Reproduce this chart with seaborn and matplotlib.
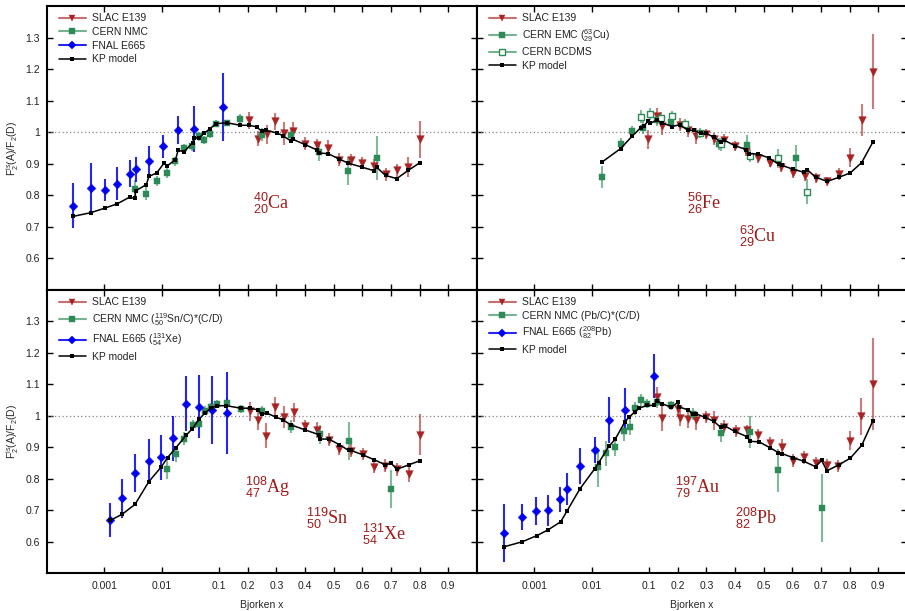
import numpy as np
import pandas as pd
import matplotlib
matplotlib.use("Agg")
import matplotlib.pyplot as plt
from matplotlib.lines import Line2D
from matplotlib.colors import to_rgba
import seaborn as sns

# ---------------------------------------------------------------- data
# 40Ca (top left)
ca_kp_x = [0.00028, 0.00058, 0.00104, 0.00167, 0.00275, 0.00345, 0.0035, 0.0054, 0.0060, 0.0082,
           0.0110, 0.0124, 0.0174, 0.0194, 0.0243, 0.0345, 0.0369, 0.0446, 0.0546, 0.0695,
           0.0885, 0.127, 0.174, 0.206, 0.231, 0.249, 0.263, 0.301, 0.323, 0.351,
           0.359, 0.400, 0.441, 0.450, 0.481, 0.519, 0.551, 0.600, 0.641, 0.650,
           0.681, 0.720, 0.760, 0.800]
ca_kp_y = [0.733, 0.745, 0.760, 0.773, 0.794, 0.790, 0.814, 0.834, 0.860, 0.871,
           0.902, 0.893, 0.913, 0.943, 0.938, 0.966, 0.982, 0.981, 0.996, 1.011,
           1.027, 1.030, 1.022, 1.022, 1.017, 1.003, 1.006, 0.998, 0.989, 0.972,
           0.977, 0.961, 0.944, 0.934, 0.932, 0.915, 0.902, 0.889, 0.878, 0.889,
           0.863, 0.853, 0.879, 0.903]
ca_e665_x = [0.00028, 0.00058, 0.00104, 0.00167, 0.00275, 0.00355, 0.0060, 0.0107, 0.0194, 0.0369, 0.115]
ca_e665_y = [0.767, 0.824, 0.817, 0.837, 0.868, 0.882, 0.909, 0.955, 1.006, 1.010, 1.080]
ca_e665_err = [0.072, 0.080, 0.036, 0.052, 0.043, 0.039, 0.046, 0.037, 0.044, 0.072, 0.108]
ca_nmc_x = [0.0034, 0.0054, 0.0084, 0.0124, 0.0174, 0.0243, 0.0336, 0.0452, 0.0546, 0.0695,
            0.0898, 0.127, 0.174, 0.251, 0.351, 0.450, 0.551, 0.650]
ca_nmc_y = [0.819, 0.805, 0.846, 0.871, 0.908, 0.950, 0.957, 0.987, 0.975, 0.995,
            1.027, 1.030, 1.042, 0.992, 0.992, 0.938, 0.877, 0.918]
ca_nmc_err = [0.030, 0.020, 0.015, 0.015, 0.015, 0.012, 0.015, 0.015, 0.012, 0.012,
              0.012, 0.010, 0.015, 0.020, 0.020, 0.030, 0.045, 0.070]
ca_slac_x = [0.204, 0.235, 0.266, 0.295, 0.326, 0.359, 0.400, 0.441, 0.481, 0.519,
             0.559, 0.600, 0.641, 0.681, 0.720, 0.760, 0.800]
ca_slac_y = [1.038, 0.979, 0.993, 1.035, 0.996, 1.003, 0.964, 0.959, 0.951, 0.913,
             0.912, 0.902, 0.894, 0.867, 0.879, 0.889, 0.977]
ca_slac_err = [0.027, 0.024, 0.030, 0.027, 0.035, 0.030, 0.020, 0.020, 0.024, 0.020,
               0.018, 0.018, 0.020, 0.020, 0.021, 0.032, 0.060]

# 56Fe / 63Cu (top right)
fe_kp_x = [0.0153, 0.0319, 0.0511, 0.0715, 0.0818, 0.0962, 0.1035, 0.127, 0.1465, 0.181,
           0.207, 0.236, 0.257, 0.280, 0.298, 0.327, 0.350, 0.362, 0.400, 0.440,
           0.449, 0.481, 0.519, 0.553, 0.563, 0.602, 0.641, 0.652, 0.681, 0.721,
           0.762, 0.802, 0.842, 0.881]
fe_kp_y = [0.906, 0.948, 0.988, 1.014, 1.020, 1.035, 1.028, 1.038, 1.029, 1.018,
           1.024, 1.006, 1.006, 0.996, 0.996, 0.985, 0.968, 0.975, 0.957, 0.945,
           0.932, 0.931, 0.918, 0.898, 0.895, 0.883, 0.873, 0.881, 0.858, 0.844,
           0.857, 0.871, 0.904, 0.969]
fe_slac_x = [0.0973, 0.127, 0.1465, 0.207, 0.236, 0.265, 0.298, 0.327, 0.362, 0.400,
             0.440, 0.481, 0.521, 0.559, 0.602, 0.643, 0.681, 0.721, 0.762, 0.802,
             0.842, 0.881]
fe_slac_y = [0.977, 1.051, 1.021, 1.024, 1.006, 0.989, 0.995, 0.979, 0.975, 0.956,
             0.940, 0.917, 0.904, 0.890, 0.870, 0.861, 0.855, 0.844, 0.868, 0.919,
             1.038, 1.192]
fe_slac_err = [0.030, 0.025, 0.030, 0.020, 0.020, 0.025, 0.015, 0.020, 0.020, 0.015,
               0.015, 0.015, 0.015, 0.015, 0.015, 0.015, 0.015, 0.015, 0.018, 0.030,
               0.050, 0.118]
cu_emc_x = [0.0153, 0.0319, 0.0498, 0.0796, 0.127, 0.1756, 0.344, 0.443, 0.614]
cu_emc_y = [0.858, 0.963, 1.005, 1.014, 1.040, 1.033, 0.963, 0.961, 0.919]
cu_emc_err = [0.035, 0.020, 0.015, 0.020, 0.020, 0.020, 0.020, 0.030, 0.040]
fe_bcdms_x = [0.0715, 0.1023, 0.1407, 0.181, 0.2256, 0.2767, 0.350, 0.4512, 0.551, 0.6495]
fe_bcdms_y = [1.049, 1.058, 1.045, 1.051, 1.026, 0.997, 0.962, 0.926, 0.917, 0.811]
fe_bcdms_err = [0.020, 0.020, 0.020, 0.015, 0.015, 0.015, 0.020, 0.020, 0.030, 0.040]

# 108Ag / 119Sn / 131Xe (bottom left)
ag_kp_x = [0.00126, 0.00205, 0.00342, 0.00595, 0.0098, 0.01267, 0.0175, 0.0266, 0.0344, 0.0451,
           0.0560, 0.0723, 0.0923, 0.1256, 0.1767, 0.207, 0.235, 0.250, 0.2674, 0.299,
           0.323, 0.351, 0.401, 0.448, 0.453, 0.483, 0.520, 0.552, 0.560, 0.601,
           0.642, 0.680, 0.700, 0.721, 0.762, 0.801]
ag_kp_y = [0.667, 0.687, 0.718, 0.790, 0.837, 0.867, 0.897, 0.938, 0.959, 0.989,
           1.008, 1.024, 1.032, 1.032, 1.024, 1.024, 1.019, 1.005, 1.008, 0.996,
           0.987, 0.971, 0.955, 0.940, 0.926, 0.926, 0.908, 0.890, 0.890, 0.876,
           0.860, 0.844, 0.849, 0.830, 0.844, 0.857]
xe_e665_x = [0.00126, 0.00205, 0.00342, 0.00595, 0.0098, 0.0159, 0.0266, 0.0451, 0.0753, 0.128]
xe_e665_y = [0.669, 0.738, 0.819, 0.857, 0.868, 0.928, 1.039, 1.029, 1.019, 1.010]
xe_e665_err = [0.054, 0.062, 0.060, 0.069, 0.072, 0.072, 0.088, 0.100, 0.108, 0.130]
sn_nmc_x = [0.0125, 0.0175, 0.0249, 0.0349, 0.0451, 0.0575, 0.0723, 0.0923, 0.1267, 0.1767,
            0.250, 0.351, 0.451, 0.552, 0.700]
sn_nmc_y = [0.830, 0.879, 0.927, 0.971, 0.974, 1.016, 1.029, 1.039, 1.041, 1.021,
            1.016, 0.965, 0.941, 0.920, 0.768]
sn_nmc_err = [0.030, 0.025, 0.020, 0.015, 0.015, 0.015, 0.012, 0.012, 0.015, 0.012,
              0.015, 0.020, 0.030, 0.060, 0.060]
ag_slac_x = [0.207, 0.235, 0.265, 0.2965, 0.3256, 0.360, 0.401, 0.442, 0.483, 0.520,
             0.560, 0.601, 0.642, 0.680, 0.721, 0.762, 0.801]
ag_slac_y = [1.014, 0.985, 0.936, 1.029, 0.996, 1.011, 0.968, 0.955, 0.924, 0.895,
             0.889, 0.879, 0.838, 0.841, 0.830, 0.814, 0.940]
ag_slac_err = [0.030, 0.030, 0.040, 0.030, 0.035, 0.030, 0.020, 0.025, 0.020, 0.020,
               0.020, 0.020, 0.020, 0.020, 0.020, 0.025, 0.065]

# 197Au / 208Pb (bottom right)
au_kp_x = [0.000291, 0.000608, 0.00111, 0.00173, 0.00289, 0.00368, 0.00621, 0.01135, 0.0132, 0.0200,
           0.0258, 0.0380, 0.0447, 0.0561, 0.0668, 0.0923, 0.1186, 0.1267, 0.1465, 0.178,
           0.201, 0.2047, 0.236, 0.2535, 0.265, 0.295, 0.327, 0.350, 0.364, 0.400,
           0.443, 0.451, 0.484, 0.521, 0.551, 0.563, 0.602, 0.641, 0.681, 0.702,
           0.721, 0.762, 0.802, 0.842, 0.881]
au_kp_y = [0.583, 0.599, 0.619, 0.637, 0.663, 0.696, 0.767, 0.832, 0.850, 0.903,
           0.926, 0.981, 0.995, 1.012, 1.024, 1.033, 1.033, 1.048, 1.038, 1.027,
           1.043, 1.028, 1.019, 1.005, 1.006, 0.995, 0.982, 0.963, 0.968, 0.950,
           0.933, 0.919, 0.917, 0.899, 0.883, 0.880, 0.867, 0.855, 0.838, 0.858,
           0.825, 0.844, 0.865, 0.906, 0.984]
pb_e665_x = [0.000291, 0.000608, 0.00108, 0.00173, 0.00285, 0.00368, 0.00621, 0.01122, 0.0200, 0.0380, 0.1186]
pb_e665_y = [0.628, 0.678, 0.698, 0.699, 0.734, 0.768, 0.840, 0.891, 0.986, 1.019, 1.125]
pb_e665_err = [0.093, 0.042, 0.045, 0.048, 0.041, 0.051, 0.057, 0.041, 0.074, 0.068, 0.070]
pb_nmc_x = [0.0128, 0.0180, 0.0258, 0.0365, 0.0459, 0.0561, 0.0715, 0.0923, 0.129, 0.178,
            0.2535, 0.352, 0.451, 0.551, 0.702]
pb_nmc_y = [0.836, 0.881, 0.902, 0.950, 0.964, 1.024, 1.050, 1.039, 1.045, 1.033,
            1.005, 0.946, 0.948, 0.827, 0.707]
pb_nmc_err = [0.063, 0.040, 0.030, 0.030, 0.025, 0.020, 0.020, 0.015, 0.020, 0.015,
              0.020, 0.030, 0.050, 0.068, 0.109]
au_slac_x = [0.127, 0.1465, 0.2023, 0.207, 0.236, 0.265, 0.298, 0.327, 0.3616, 0.402,
             0.443, 0.4814, 0.522, 0.563, 0.601, 0.641, 0.681, 0.722, 0.760, 0.801,
             0.841, 0.881]
au_slac_y = [1.060, 0.993, 1.022, 0.993, 0.990, 0.985, 0.996, 0.985, 0.965, 0.952,
             0.955, 0.938, 0.913, 0.900, 0.857, 0.868, 0.850, 0.844, 0.840, 0.921,
             0.998, 1.100]
au_slac_err = [0.030, 0.040, 0.020, 0.025, 0.030, 0.030, 0.020, 0.030, 0.020, 0.020,
               0.015, 0.020, 0.020, 0.025, 0.020, 0.020, 0.020, 0.020, 0.020, 0.030,
               0.060, 0.146]

# axis ticks
xtick_values = [0.001, 0.01, 0.1, 0.2, 0.3, 0.4, 0.5, 0.6, 0.7, 0.8, 0.9]
xtick_labels = ["0.001", "0.01", "0.1", "0.2", "0.3", "0.4", "0.5", "0.6", "0.7", "0.8", "0.9"]
ytick_values = [0.6, 0.7, 0.8, 0.9, 1.0, 1.1, 1.2, 1.3]
ytick_labels = ["0.6", "0.7", "0.8", "0.9", "1", "1.1", "1.2", "1.3"]

# ---------------------------------------------------------------- style
sns.set_theme(style="ticks")
plt.rcParams.update({
    "font.family": ["Liberation Sans", "DejaVu Sans"],
    "mathtext.fontset": "custom",
    "mathtext.rm": "Liberation Sans",
    "mathtext.it": "Liberation Sans:italic",
    "mathtext.bf": "Liberation Sans:bold",
    "axes.facecolor": "white",
    "axes.edgecolor": "black",
    "axes.linewidth": 1.5,
    "xtick.color": "black",
    "ytick.color": "black",
    "text.color": "#222222",
})

RED = "#a82424"
GREEN = "#2e8b57"
BLUE = "#0000ee"
LABEL_RED = "#9e1b1b"


def _fwd(x):
    """log below x = 0.1, linear above (0.1 linear step = half a decade)."""
    x = np.asarray(x, dtype=float)
    with np.errstate(divide="ignore", invalid="ignore"):
        lg = np.log10(np.where(x > 0, x, 1e-12) / 0.1)
    return np.where(x < 0.1, lg, (x - 0.1) * 5.0)


def _inv(u):
    u = np.asarray(u, dtype=float)
    return np.where(u < 0, 0.1 * np.power(10.0, np.minimum(u, 0.0)), 0.1 + u / 5.0)


def draw_series(ax, x, y, err, marker, color, size, alpha_err, open_marker=False):
    ax.errorbar(x, y, yerr=err, fmt="none", ecolor=color, alpha=alpha_err,
                elinewidth=1.5, capsize=0, zorder=2)
    df = pd.DataFrame({"x": x, "y": y})
    sns.scatterplot(data=df, x="x", y="y", ax=ax, marker=marker, s=size,
                    color="white" if open_marker else color,
                    edgecolor=color, linewidth=1.0 if open_marker else 0.3,
                    legend=False, zorder=3)


def draw_model(ax, x, y):
    sns.lineplot(x=x, y=y, ax=ax, color="black", linewidth=1.1, marker="s",
                 markersize=2.6, markeredgewidth=0, estimator=None, sort=False,
                 legend=False, zorder=4)


def setup_axes(ax):
    ax.set_xscale("function", functions=(_fwd, _inv))
    ax.set_xlim(1e-4, 1.0)
    ax.set_ylim(0.5, 1.4)


def finish_axes(ax, show_x, show_y):
    ax.set_xlim(1e-4, 1.0)
    ax.set_ylim(0.5, 1.4)
    ax.set_xticks(xtick_values)
    ax.set_xticklabels(xtick_labels if show_x else [])
    ax.set_yticks(ytick_values)
    ax.set_yticklabels(ytick_labels if show_y else [])
    ax.minorticks_off()
    ax.tick_params(axis="both", which="major", direction="in", top=True, right=True,
                   length=4, width=1.0, labelsize=7.5, labelcolor="#222222")
    ax.tick_params(axis="x", pad=6)
    ax.tick_params(axis="y", pad=5)
    ax.axhline(1.0, color="#888888", linewidth=0.9, linestyle=(0, (1, 2)), zorder=1)
    ax.set_xlabel("Bjorken x" if show_x else "", fontsize=7.5, labelpad=6)
    ax.set_ylabel(r"F$_2^{\mathrm{is}}$(A)/F$_2$(D)" if show_y else "", fontsize=7.5, labelpad=3)
    for sp in ax.spines.values():
        sp.set_linewidth(1.5)
        sp.set_color("black")


def legend_handle(color, marker, line_alpha=0.65, open_marker=False, msize=5):
    lc = to_rgba(color, line_alpha)
    return Line2D([], [], color=lc, linewidth=1.5, marker=marker, markersize=msize,
                  markerfacecolor="white" if open_marker else color,
                  markeredgecolor=color, markeredgewidth=1.0 if open_marker else 0.3)


def kp_handle():
    return Line2D([], [], color="black", linewidth=1.1, marker="s", markersize=2.6,
                  markeredgewidth=0)


def add_legend(ax, handles, labels):
    ax.legend(handles, labels, loc="upper left", bbox_to_anchor=(0.01, 1.0),
              frameon=False, fontsize=7.5, handlelength=2.6, handletextpad=0.6,
              labelspacing=0.35, borderaxespad=0.4, borderpad=0.3, numpoints=1)


def nuclide(ax, fx, fy, text):
    ax.text(fx, fy, text, transform=ax.transAxes, ha="center", va="center",
            fontsize=13, color=LABEL_RED, family=["Liberation Serif", "DejaVu Serif"])


# ---------------------------------------------------------------- figure
fig = plt.figure(figsize=(9.05, 6.11), dpi=100)
W = 430 / 905
ax_tl = fig.add_axes([47 / 905, 321 / 611, W, 284 / 611])
ax_tr = fig.add_axes([477 / 905, 321 / 611, W, 284 / 611])
ax_bl = fig.add_axes([47 / 905, 38 / 611, W, 283 / 611])
ax_br = fig.add_axes([477 / 905, 38 / 611, W, 283 / 611])

# top left: calcium
setup_axes(ax_tl)
draw_series(ax_tl, ca_slac_x, ca_slac_y, ca_slac_err, "v", RED, 30, 0.6)
draw_series(ax_tl, ca_nmc_x, ca_nmc_y, ca_nmc_err, "s", GREEN, 22, 0.6)
draw_series(ax_tl, ca_e665_x, ca_e665_y, ca_e665_err, "D", BLUE, 20, 0.85)
draw_model(ax_tl, ca_kp_x, ca_kp_y)
finish_axes(ax_tl, False, True)
add_legend(ax_tl,
           [legend_handle(RED, "v"), legend_handle(GREEN, "s", msize=4.5),
            legend_handle(BLUE, "D", 0.85, msize=4.2), kp_handle()],
           ["SLAC E139", "CERN NMC", "FNAL E665", "KP model"])
nuclide(ax_tl, 0.521, 0.306, r"${}^{40}_{20}$Ca")

# top right: iron / copper
setup_axes(ax_tr)
draw_series(ax_tr, fe_slac_x, fe_slac_y, fe_slac_err, "v", RED, 30, 0.6)
draw_series(ax_tr, cu_emc_x, cu_emc_y, cu_emc_err, "s", GREEN, 22, 0.6)
draw_series(ax_tr, fe_bcdms_x, fe_bcdms_y, fe_bcdms_err, "s", GREEN, 16, 0.6, open_marker=True)
draw_model(ax_tr, fe_kp_x, fe_kp_y)
finish_axes(ax_tr, False, False)
add_legend(ax_tr,
           [legend_handle(RED, "v"), legend_handle(GREEN, "s", msize=4.5),
            legend_handle(GREEN, "s", open_marker=True, msize=3.8), kp_handle()],
           ["SLAC E139", r"CERN EMC (${}^{63}_{29}$Cu)", "CERN BCDMS", "KP model"])
nuclide(ax_tr, 0.527, 0.306, r"${}^{56}_{26}$Fe")
nuclide(ax_tr, 0.653, 0.190, r"${}^{63}_{29}$Cu")

# bottom left: silver / tin / xenon
setup_axes(ax_bl)
draw_series(ax_bl, ag_slac_x, ag_slac_y, ag_slac_err, "v", RED, 30, 0.6)
draw_series(ax_bl, sn_nmc_x, sn_nmc_y, sn_nmc_err, "s", GREEN, 22, 0.6)
draw_series(ax_bl, xe_e665_x, xe_e665_y, xe_e665_err, "D", BLUE, 20, 0.85)
draw_model(ax_bl, ag_kp_x, ag_kp_y)
finish_axes(ax_bl, True, True)
add_legend(ax_bl,
           [legend_handle(RED, "v"), legend_handle(GREEN, "s", msize=4.5),
            legend_handle(BLUE, "D", 0.85, msize=4.2), kp_handle()],
           ["SLAC E139", r"CERN NMC (${}^{119}_{50}$Sn/C)*(C/D)",
            r"FNAL E665 (${}^{131}_{54}$Xe)", "KP model"])
nuclide(ax_bl, 0.513, 0.302, r"${}^{108}_{47}$Ag")
nuclide(ax_bl, 0.651, 0.191, r"${}^{119}_{50}$Sn")
nuclide(ax_bl, 0.783, 0.136, r"${}^{131}_{54}$Xe")

# bottom right: gold / lead
setup_axes(ax_br)
draw_series(ax_br, au_slac_x, au_slac_y, au_slac_err, "v", RED, 30, 0.6)
draw_series(ax_br, pb_nmc_x, pb_nmc_y, pb_nmc_err, "s", GREEN, 22, 0.6)
draw_series(ax_br, pb_e665_x, pb_e665_y, pb_e665_err, "D", BLUE, 20, 0.85)
draw_model(ax_br, au_kp_x, au_kp_y)
finish_axes(ax_br, True, False)
add_legend(ax_br,
           [legend_handle(RED, "v"), legend_handle(GREEN, "s", msize=4.5),
            legend_handle(BLUE, "D", 0.85, msize=4.2), kp_handle()],
           ["SLAC E139", "CERN NMC (Pb/C)*(C/D)",
            r"FNAL E665 (${}^{208}_{82}$Pb)", "KP model"])
nuclide(ax_br, 0.513, 0.302, r"${}^{197}_{79}$Au")
nuclide(ax_br, 0.649, 0.193, r"${}^{208}_{82}$Pb")

fig.savefig("out.png", dpi=100)
